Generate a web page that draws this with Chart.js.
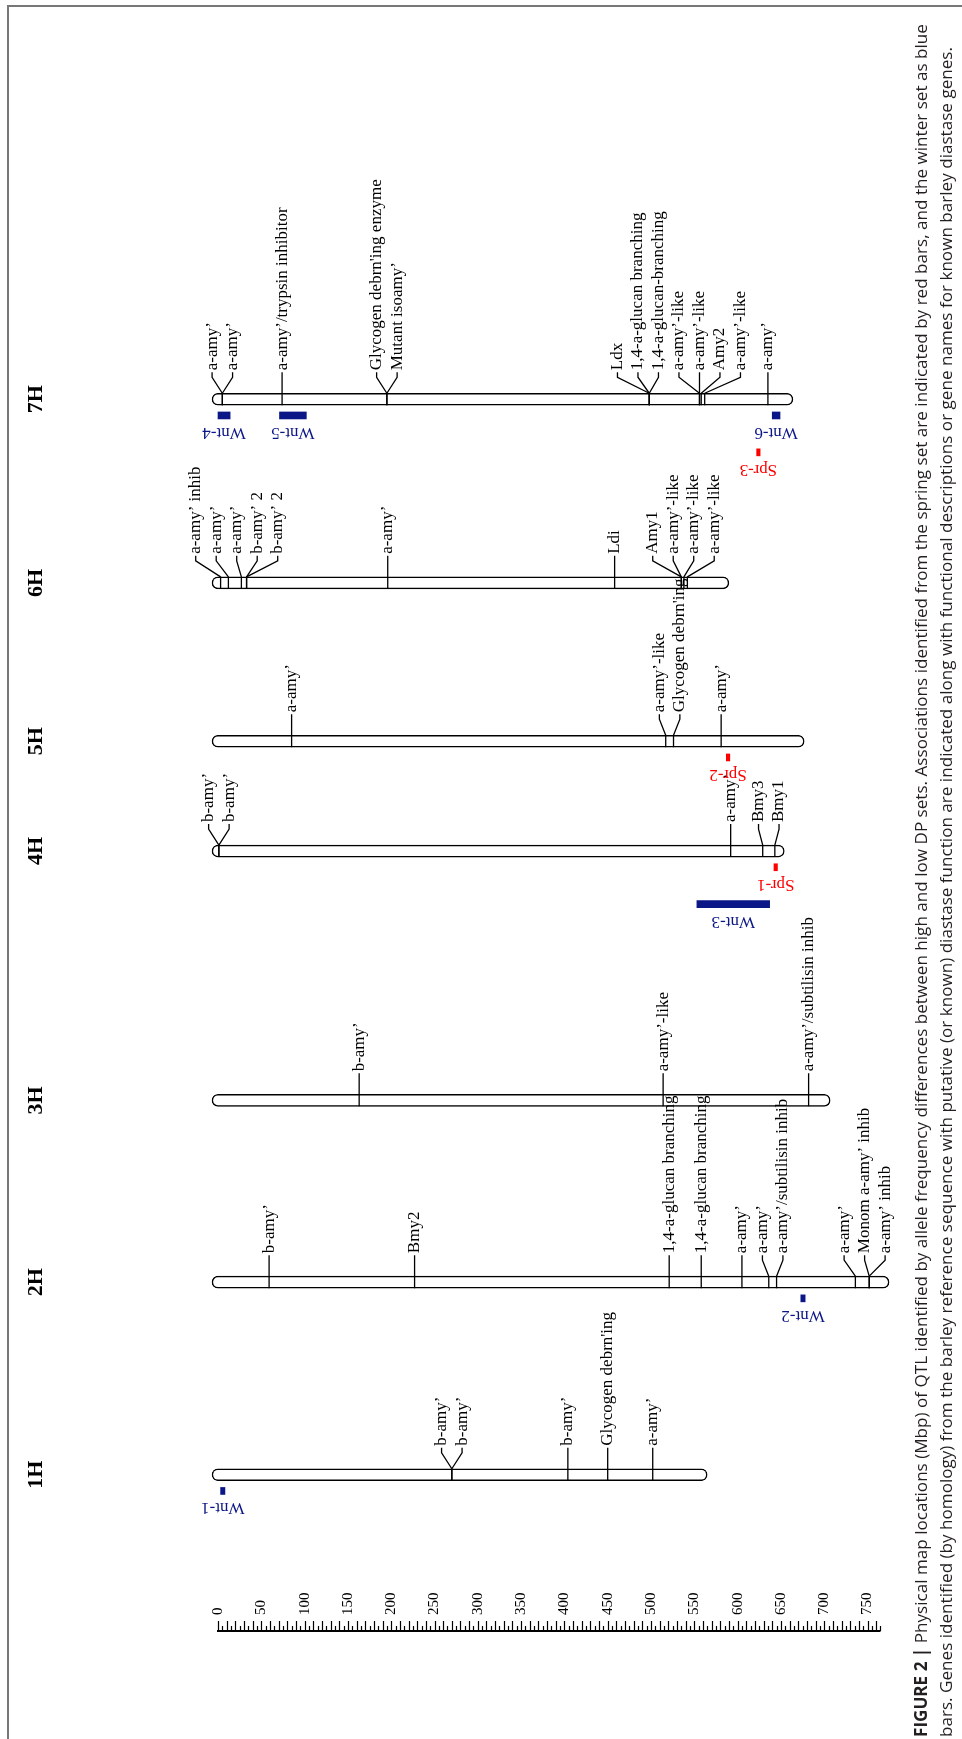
<!DOCTYPE html>
<html>
<head>
<meta charset="utf-8">
<title>Barley diastase QTL physical map</title>
<script src="https://cdn.jsdelivr.net/npm/chart.js@4.4.1/dist/chart.umd.min.js"></script>
<style>
  html, body { margin: 0; padding: 0; background: #ffffff; }
  canvas { display: block; }
</style>
</head>
<body>
<canvas id="map" width="962" height="1739"></canvas>
<script>
// ---------------- data ----------------
const chromosomes = ['1H', '2H', '3H', '4H', '5H', '6H', '7H'];
const chromLengths = [558, 768, 700, 647, 670, 583, 657];           // Mbp
const scaleLabels = [0, 50, 100, 150, 200, 250, 300, 350, 400, 450, 500, 550, 600, 650, 700, 750];
const scaleEnd = 765;                                                 // ruler extent, Mbp

// genes: [label, position in Mbp]
const genes1H = [["b-amy’", 270], ["b-amy’", 270], ["b-amy’", 404], ["Glycogen debrn'ing", 450], ["a-amy’", 502]];
const genes2H = [["b-amy’", 59], ["Bmy2", 227], ["1,4-a-glucan branching", 521], ["1,4-a-glucan branching", 558],
                 ["a-amy’", 605], ["a-amy’", 636], ["a-amy’/subtilisin inhib", 645],
                 ["a-amy’", 736], ["Monom a-amy’ inhib", 752], ["a-amy’ inhib", 752]];
const genes3H = [["b-amy’", 163], ["a-amy’-like", 514], ["a-amy’/subtilisin inhib", 682]];
const genes4H = [["b-amy’", 1], ["b-amy’", 1], ["a-amy’", 592], ["Bmy3", 629], ["Bmy1", 643]];
const genes5H = [["a-amy’", 85], ["a-amy’-like", 517], ["Glycogen debrn'ing", 526], ["a-amy’", 581]];
const genes6H = [["a-amy’ inhib", 3], ["a-amy’", 12], ["a-amy’", 27], ["b-amy’ 2", 33], ["b-amy’ 2", 33],
                 ["a-amy’", 196], ["Ldi", 458], ["Amy1", 535], ["a-amy’-like", 535], ["a-amy’-like", 538], ["a-amy’-like", 542]];
const genes7H = [["a-amy’", 5], ["a-amy’", 5], ["a-amy’/trypsin inhibitor", 74],
                 ["Glycogen debrn'ing enzyme", 195], ["Mutant isoamy’", 195],
                 ["Ldx", 498], ["1,4-a-glucan branching", 498], ["1,4-a-glucan-branching", 498],
                 ["a-amy’-like", 556], ["a-amy’-like", 556], ["Amy2", 558], ["a-amy’-like", 562], ["a-amy’", 635]];

// QTL intervals: [name, chromosome, start Mbp, end Mbp]
const springQTL = [["Spr-1", "4H", 642, 646], ["Spr-2", "5H", 587, 591], ["Spr-3", "7H", 622, 626]];
const winterQTL = [["Wnt-1", "1H", 3, 8], ["Wnt-2", "2H", 673, 678], ["Wnt-3", "4H", 553, 637],
                   ["Wnt-4", "7H", 0, 14], ["Wnt-5", "7H", 71, 102], ["Wnt-6", "7H", 640, 649]];

const captionLead = "FIGURE 2 | ";
const captionLine1 = "Physical map locations (Mbp) of QTL identified by allele frequency differences between high and low DP sets. Associations identified from the spring set are indicated by red bars, and the winter set as blue";
const captionLine2 = "bars. Genes identified (by homology) from the barley reference sequence with putative (or known) diastase function are indicated along with functional descriptions or gene names for known barley diastase genes.";

// ---------------- layout & style ----------------
const W = 962, H = 1739;
const PLOT_LEFT = 218, PLOT_RIGHT = 867.5;          // pixel span of 0..750 Mbp
const ROW_CENTER = { '1H': 1542, '2H': 1328, '3H': 1126, '4H': 849, '5H': 727, '6H': 551, '7H': 347 };
const BAR_H = 12;
const QTL_H = 7;
const QTL_FIRST = 18, QTL_STEP = 41, QTL_TEXT = 17;
const LABEL_GAP = 20.5;
const SERIF = '"Liberation Serif", "Times New Roman", serif';
const SANS = '"Open Sans", "Liberation Sans", sans-serif';
const GENE_FONT = '17px ' + SERIF;
const QTL_FONT = '17px ' + SERIF;
const NAVY = '#0b1687';
const RED = '#ff0000';

const geneSets = { '1H': genes1H, '2H': genes2H, '3H': genes3H, '4H': genes4H, '5H': genes5H, '6H': genes6H, '7H': genes7H };
const pxPerMbp = (PLOT_RIGHT - PLOT_LEFT) / 750;
const capMbp = (BAR_H / 2) / pxPerMbp;

// stack QTL boxes into columns below each chromosome so labels never collide
const measureCtx = document.createElement('canvas').getContext('2d');
measureCtx.font = QTL_FONT;
function qtlColumns(list) {
  const items = list.map(q => {
    const l = PLOT_LEFT + q.start * pxPerMbp, r = PLOT_LEFT + q.end * pxPerMbp;
    const c = (l + r) / 2, w = measureCtx.measureText(q.name).width;
    return { q, lo: Math.min(l, c - w / 2) - 3, hi: Math.max(r, c + w / 2) + 3 };
  }).sort((a, b) => b.q.end - a.q.end);
  const cols = [];
  items.forEach(it => {
    let k = 0;
    while (cols[k] && cols[k].some(o => !(it.hi < o.lo || it.lo > o.hi))) k++;
    (cols[k] = cols[k] || []).push(it);
    it.q.col = k;
  });
}
const allQTL = springQTL.map(q => ({ name: q[0], chrom: q[1], start: q[2], end: q[3], color: RED }))
  .concat(winterQTL.map(q => ({ name: q[0], chrom: q[1], start: q[2], end: q[3], color: NAVY })));
chromosomes.forEach(c => qtlColumns(allQTL.filter(q => q.chrom === c)));
const qtlRow = q => ROW_CENTER[q.chrom] + BAR_H / 2 + QTL_FIRST - 6 + q.col * QTL_STEP;

// spread overlapping labels into evenly spaced groups centred on their loci
function spreadLabels(desired, gap) {
  const groups = [];
  desired.forEach(d => {
    groups.push({ ds: [d], start: d });
    while (groups.length > 1) {
      const b = groups[groups.length - 1], a = groups[groups.length - 2];
      if (a.start + a.ds.length * gap > b.start + 0.01) {
        a.ds = a.ds.concat(b.ds);
        groups.pop();
        a.start = a.ds.reduce((s, v, i) => s + v - i * gap, 0) / a.ds.length;
      } else break;
    }
  });
  const out = [];
  groups.forEach(g => g.ds.forEach((_, i) => out.push(g.start + i * gap)));
  return out;
}

function rotatedText(ctx, text, x, y, angle, align) {
  ctx.save();
  ctx.translate(x, y);
  ctx.rotate(angle);
  ctx.textAlign = align;
  ctx.textBaseline = 'middle';
  ctx.fillText(text, 0, 0);
  ctx.restore();
}

const mapDecor = {
  id: 'mapDecor',
  afterDatasetsDraw(chart) {
    const { ctx } = chart;
    const x = chart.scales.x, y = chart.scales.y;
    ctx.save();

    // frame
    ctx.strokeStyle = '#777777';
    ctx.lineWidth = 2;
    ctx.beginPath();
    ctx.moveTo(8, H); ctx.lineTo(8, 6); ctx.lineTo(W, 6);
    ctx.stroke();

    // chromosome names
    ctx.fillStyle = '#000';
    ctx.font = 'bold 22px ' + SERIF;
    chromosomes.forEach(c => rotatedText(ctx, c, 36, y.getPixelForValue(ROW_CENTER[c]), -Math.PI / 2, 'center'));

    // genes: ticks across the chromosome, connectors and rotated labels
    ctx.lineWidth = 1.3;
    ctx.strokeStyle = '#000';
    ctx.font = GENE_FONT;
    chromosomes.forEach(c => {
      const cy = y.getPixelForValue(ROW_CENTER[c]);
      const top = cy - BAR_H / 2;
      const list = geneSets[c];
      const tx = list.map(g => x.getPixelForValue(g[1]));
      const lx = spreadLabels(tx, LABEL_GAP);
      list.forEach((g, i) => {
        ctx.beginPath();
        ctx.moveTo(tx[i], top);
        ctx.lineTo(tx[i], top + BAR_H);
        ctx.moveTo(tx[i], top);
        if (Math.abs(lx[i] - tx[i]) < 0.5) {
          ctx.lineTo(tx[i], top - 21);
        } else {
          ctx.lineTo(lx[i], top - 16);
          ctx.lineTo(lx[i], top - 21);
        }
        ctx.stroke();
        rotatedText(ctx, g[0], lx[i], top - 23, -Math.PI / 2, 'left');
      });
    });

    // QTL names, printed upside down under their boxes
    ctx.font = QTL_FONT;
    allQTL.forEach(q => {
      const cx = (x.getPixelForValue(q.start) + x.getPixelForValue(q.end)) / 2;
      const cy = y.getPixelForValue(qtlRow(q)) + QTL_TEXT;
      ctx.fillStyle = q.color;
      rotatedText(ctx, q.name, cx, cy, Math.PI, 'center');
    });

    // Mbp ruler
    const base = 1631;
    ctx.fillStyle = '#000';
    ctx.strokeStyle = '#000';
    ctx.lineWidth = 2;
    ctx.beginPath();
    ctx.moveTo(x.getPixelForValue(0) - 1, base);
    ctx.lineTo(x.getPixelForValue(scaleEnd), base);
    ctx.stroke();
    ctx.lineWidth = 1.2;
    ctx.beginPath();
    for (let v = 0; v <= scaleEnd; v += 5) {
      const px = Math.round(x.getPixelForValue(v)) + 0.5;
      ctx.moveTo(px, base);
      ctx.lineTo(px, base - (v % 10 === 0 ? 10 : 5));
    }
    ctx.stroke();
    ctx.font = '15px ' + SERIF;
    scaleLabels.forEach(v => rotatedText(ctx, String(v), x.getPixelForValue(v), base - 16, -Math.PI / 2, 'left'));

    // caption, two lines running up the right edge
    ctx.fillStyle = '#231f20';
    const target = 1714;
    let s = 16;
    ctx.font = 'bold ' + s + 'px ' + SANS;
    let wLead = ctx.measureText(captionLead).width;
    ctx.font = s + 'px ' + SANS;
    let wRest = ctx.measureText(captionLine1).width;
    s = s * target / (wLead + wRest);
    const drawCaption = (cx, lead, rest) => {
      ctx.save();
      ctx.translate(cx, 1737);
      ctx.rotate(-Math.PI / 2);
      ctx.textAlign = 'left';
      ctx.textBaseline = 'middle';
      let off = 0;
      if (lead) {
        ctx.font = 'bold ' + s + 'px ' + SANS;
        ctx.fillText(lead, 0, 0);
        off = ctx.measureText(lead).width;
      }
      ctx.font = s + 'px ' + SANS;
      ctx.fillText(rest, off, 0);
      ctx.restore();
    };
    drawCaption(922, captionLead, captionLine1);
    drawCaption(947, '', captionLine2);

    ctx.restore();
  }
};

new Chart(document.getElementById('map'), {
  type: 'bar',
  data: {
    datasets: [
      {
        label: 'Chromosomes',
        data: chromosomes.map((c, i) => ({ x: [-capMbp, chromLengths[i] + capMbp], y: ROW_CENTER[c] })),
        backgroundColor: '#ffffff',
        borderColor: '#000000',
        borderWidth: 1.5,
        borderRadius: BAR_H / 2,
        borderSkipped: false,
        barThickness: BAR_H,
        grouped: false,
        clip: false
      },
      {
        label: 'Winter set',
        data: allQTL.filter(q => q.color === NAVY).map(q => ({ x: [q.start, q.end], y: qtlRow(q) })),
        backgroundColor: NAVY,
        borderWidth: 0,
        barThickness: QTL_H,
        grouped: false,
        clip: false
      },
      {
        label: 'Spring set',
        data: allQTL.filter(q => q.color === RED).map(q => ({ x: [q.start, q.end], y: qtlRow(q) })),
        backgroundColor: RED,
        borderWidth: 0,
        barThickness: QTL_H,
        grouped: false,
        clip: false
      }
    ]
  },
  options: {
    indexAxis: 'y',
    responsive: false,
    animation: false,
    devicePixelRatio: 1,
    layout: { padding: { left: PLOT_LEFT, right: W - PLOT_RIGHT, top: 0, bottom: 0 } },
    scales: {
      x: { type: 'linear', min: 0, max: 750, display: false },
      y: { type: 'linear', min: 0, max: H, reverse: true, display: false }
    },
    plugins: { legend: { display: false }, tooltip: { enabled: false } }
  },
  plugins: [mapDecor]
});
</script>
</body>
</html>
